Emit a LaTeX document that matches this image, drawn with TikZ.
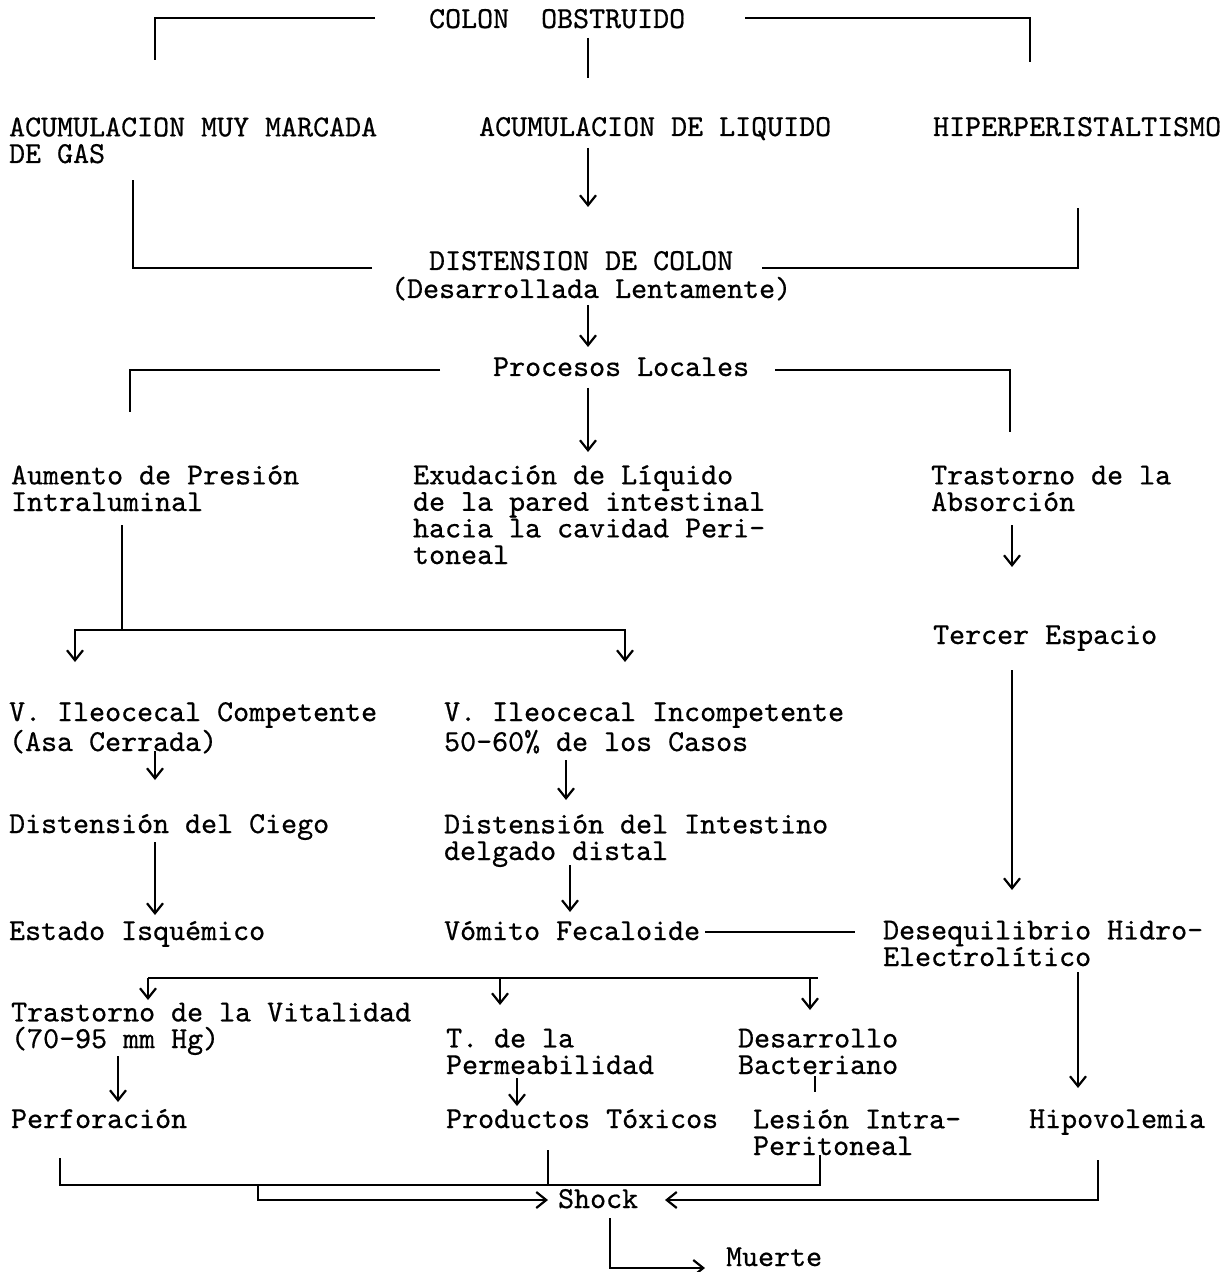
\documentclass[tikz,border=0pt]{standalone}
\usepackage{fontspec}
\newfontfamily\maquina{lmmono10-regular.otf}[FakeBold=0.6]
\usetikzlibrary{arrows.meta}

\begin{document}
\frenchspacing
\begin{tikzpicture}[x=0.5pt,y=-0.5pt,line width=1.1pt,
  >={Straight Barb[length=5pt,width=8pt]},
  txt/.style={anchor=base west,inner sep=0pt,align=left,
    font=\maquina\fontsize{15.24}{13.3}\selectfont}]
\useasboundingbox (0,0) rectangle (1225,1272);
% textos (base = ultima linea)
\node[txt] (colon) at (428,28) {COLON\ \ OBSTRUIDO};
\node[txt] (gas) at (8,163) {ACUMULACION MUY MARCADA\\DE GAS};
\node[txt] (liquido) at (478,136) {ACUMULACION DE LIQUIDO};
\node[txt] (hiper) at (932,136) {HIPERPERISTALTISMO};
\node[txt] (dist) at (428,270) {DISTENSION DE COLON};
\node[txt] (lento) at (390,298) {(Desarrollada Lentamente)};
\node[txt] (procesos) at (492,376) {Procesos Locales};
\node[txt] (presion) at (10,511) {Aumento de Presión\\Intraluminal};
\node[txt] (exud) at (412,564) {Exudación de Líquido\\de la pared intestinal\\hacia la cavidad Peri-\\toneal};
\node[txt] (absorc) at (930,511) {Trastorno de la\\Absorción};
\node[txt] (tercer) at (932,644) {Tercer Espacio};
\node[txt] (compet) at (8,751) {V. Ileocecal Competente\\(Asa Cerrada)};
\node[txt] (incomp) at (443,751) {V. Ileocecal Incompetente\\50-60\% de los Casos};
\node[txt] (ciego) at (8,833) {Distensión del Ciego};
\node[txt] (intest) at (443,860) {Distensión del Intestino\\delgado distal};
\node[txt] (isquem) at (8,940) {Estado Isquémico};
\node[txt] (vomito) at (443,940) {Vómito Fecaloide};
\node[txt] (deseq) at (882,966) {Desequilibrio Hidro-\\Electrolítico};
\node[txt] (vital) at (10,1048) {Trastorno de la Vitalidad\\(70-95 mm Hg)};
\node[txt] (perm) at (445,1074) {T. de la\\Permeabilidad};
\node[txt] (bact) at (737,1074) {Desarrollo\\Bacteriano};
\node[txt] (perfor) at (10,1128) {Perforación};
\node[txt] (toxic) at (445,1128) {Productos Tóxicos};
\node[txt] (lesion) at (752,1155) {Lesión Intra-\\Peritoneal};
\node[txt] (hipov) at (1028,1128) {Hipovolemia};
\node[txt] (shock) at (557,1208) {Shock};
\node[txt] (muerte) at (725,1266) {Muerte};
% colon obstruido
\draw (colon.base west) ++(-53,-10) -- ++(-220,0) -- ++(0,42);
\draw (colon.base west) ++(317,-10) -- ++(285,0) -- ++(0,44);
\draw (colon.base west) ++(160,10) -- ++(0,40);
\draw[->] (liquido.base west) ++(110,12) -- ++(0,59);
\draw (dist.base west) ++(-56,-2) -- ++(-239,0) -- ++(0,-88);
\draw (dist.base west) ++(334,-2) -- ++(316,0) -- ++(0,-60);
\draw[->] (lento.base west) ++(198,7) -- ++(0,42);
% procesos locales
\draw (procesos.base west) ++(-52,-6) -- ++(-310,0) -- ++(0,42);
\draw (procesos.base west) ++(283,-6) -- ++(235,0) -- ++(0,62);
\draw[->] (procesos.base west) ++(96,12) -- ++(0,64);
\draw[->] (presion.base west) ++(112,14) -- ++(0,105) -- ++(-47,0) -- ++(0,32);
\draw[->] (presion.base west) ++(112,119) -- ++(503,0) -- ++(0,32);
\draw[->] (absorc.base west) ++(82,14) -- ++(0,42);
\draw[->] (tercer.base west) ++(80,26) -- ++(0,220);
% valvula ileocecal
\draw[->] (compet.base west) ++(147,0) -- ++(0,29);
\draw[->] (incomp.base west) ++(123,9) -- ++(0,40);
\draw[->] (ciego.base west) ++(147,9) -- ++(0,73);
\draw[->] (intest.base west) ++(127,5) -- ++(0,47);
\draw (vomito.base west) ++(262,-8) -- ++(150,0);
% trastornos
\draw (vital.base west) ++(138,-70) -- ++(670,0);
\draw[->] (vital.base west) ++(138,-70) -- ++(0,22);
\draw[->] (vital.base west) ++(490,-70) -- ++(0,27);
\draw[->] (vital.base west) ++(800,-70) -- ++(0,32);
\draw[->] (deseq.base west) ++(196,6) -- ++(0,116);
\draw[->] (vital.base west) ++(108,8) -- ++(0,46);
\draw[->] (perm.base west) ++(72,4) -- ++(0,28);
\draw (bact.base west) ++(78,2) -- ++(0,16);
% shock y muerte
\draw (perfor.base west) ++(50,30) -- ++(0,27) -- ++(760,0) -- ++(0,-30);
\draw (toxic.base west) ++(103,22) -- ++(0,35);
\draw[->] (shock.base west) ++(-299,-23) -- ++(0,15) -- ++(290,0);
\draw[->] (hipov.base west) ++(70,32) -- ++(0,40) -- ++(-433,0);
\draw[->] (shock.base west) ++(53,10) -- ++(0,50) -- ++(95,0);
\end{tikzpicture}
\end{document}
